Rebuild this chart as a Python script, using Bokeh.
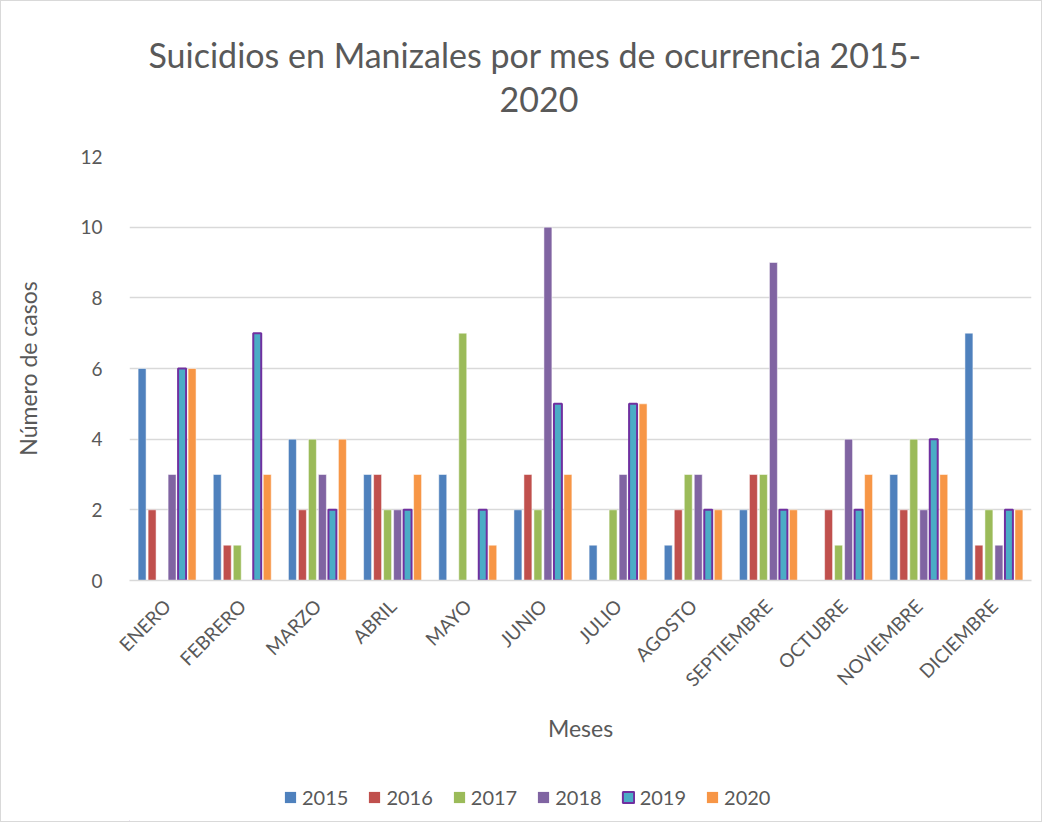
from bokeh.plotting import figure
from bokeh.models import ColumnDataSource, Legend, LegendItem, Title, FactorRange, Range1d
from bokeh.layouts import column
from bokeh.transform import dodge
from bokeh.embed import file_html
from bokeh.resources import INLINE
import math

meses = ["ENERO", "FEBRERO", "MARZO", "ABRIL", "MAYO", "JUNIO", "JULIO",
         "AGOSTO", "SEPTIEMBRE", "OCTUBRE", "NOVIEMBRE", "DICIEMBRE"]
y2015 = [6, 3, 4, 3, 3, 2, 1, 1, 2, 0, 3, 7]
y2016 = [2, 1, 2, 3, 0, 3, 0, 2, 3, 2, 2, 1]
y2017 = [0, 1, 4, 2, 7, 2, 2, 3, 3, 1, 4, 2]
y2018 = [3, 0, 3, 2, 0, 10, 3, 3, 9, 4, 2, 1]
y2019 = [6, 7, 2, 2, 2, 5, 5, 2, 2, 2, 4, 2]
y2020 = [6, 3, 4, 3, 1, 3, 5, 2, 2, 3, 3, 2]
years = ["2015", "2016", "2017", "2018", "2019", "2020"]
colors = ["#4F81BD", "#C0504D", "#9BBB59", "#8064A2", "#4BACC6", "#F79646"]

src = ColumnDataSource(dict(mes=meses, y2015=y2015, y2016=y2016, y2017=y2017,
                            y2018=y2018, y2019=y2019, y2020=y2020))

FONT = "Lato"
GREY = "#595959"

p = figure(frame_width=902, frame_height=424, x_range=FactorRange(*meses), y_range=Range1d(0, 12),
           output_backend="svg", toolbar_location=None,
           min_border_left=128, min_border_right=10, min_border_top=155, min_border_bottom=0)
p.outline_line_color = None
p.border_fill_color = "white"

step = 0.133
bw = 0.106
for i, (yr, c) in enumerate(zip(years, colors)):
    off = (i - 2.5) * step
    if yr == "2019":
        p.vbar(x=dodge("mes", off, range=p.x_range), top="y" + yr, width=bw, source=src,
               fill_color=c, line_color="#7030A0", line_width=2)
    else:
        p.vbar(x=dodge("mes", off, range=p.x_range), top="y" + yr, width=bw, source=src,
               fill_color=c, line_color="white", line_alpha=0.5, line_width=1)

# axes
p.yaxis.ticker = [0, 2, 4, 6, 8, 10, 12]
p.yaxis.axis_line_color = None
p.yaxis.major_tick_line_color = None
p.yaxis.minor_tick_line_color = None
p.yaxis.major_label_text_font = FONT
p.yaxis.major_label_text_font_size = "19px"
p.yaxis.major_label_text_color = GREY
p.yaxis.axis_label = "Número de casos"
p.yaxis.axis_label_text_font = FONT
p.yaxis.axis_label_text_font_size = "23px"
p.yaxis.axis_label_text_font_style = "normal"
p.yaxis.axis_label_text_color = GREY
p.yaxis.major_label_standoff = 21
p.yaxis.axis_label_standoff = 35

p.xaxis.axis_line_color = "#D9D9D9"
p.xaxis.axis_line_width = 1.5
p.xaxis.major_tick_line_color = None
p.xaxis.minor_tick_line_color = None
p.xaxis.major_label_orientation = math.pi / 4
p.xaxis.major_label_text_font = FONT
p.xaxis.major_label_text_font_size = "19px"
p.xaxis.major_label_text_color = GREY
p.xaxis.major_label_standoff = 16
p.xaxis.axis_label = "Meses"
p.xaxis.axis_label_text_font = FONT
p.xaxis.axis_label_text_font_size = "23px"
p.xaxis.axis_label_text_font_style = "normal"
p.xaxis.axis_label_text_color = GREY
p.xaxis.axis_label_standoff = 12

p.xgrid.grid_line_color = None
p.ygrid.grid_line_color = "#D9D9D9"
p.ygrid.grid_line_width = 1.5

# title (two lines)
p.add_layout(Title(text="2020", align="left", text_font=FONT, text_font_size="34px",
                   text_font_style="normal", text_color=GREY, standoff=90, offset=370), "above")
p.add_layout(Title(text="Suicidios en Manizales por mes de ocurrencia 2015-", align="left",
                   text_font=FONT, text_font_size="34px", text_font_style="normal",
                   text_color=GREY, standoff=-70, offset=19), "above")

# legend strip (separate small figure below the chart)
leg = figure(width=1040, height=77, x_range=Range1d(0, 1), y_range=Range1d(0, 1),
             output_backend="svg", toolbar_location=None,
             x_axis_location=None, y_axis_location=None, min_border=0)
leg.outline_line_color = None
leg.xgrid.grid_line_color = None
leg.ygrid.grid_line_color = None
leg_r = []
for yr, c in zip(years, colors):
    if yr == "2019":
        r = leg.vbar(x=[-5], top=[0], width=0.1, fill_color=c, line_color="#7030A0", line_width=2)
    else:
        r = leg.vbar(x=[-5], top=[0], width=0.1, fill_color=c, line_color=None)
    leg_r.append(r)

legend = Legend(items=[LegendItem(label=yr, renderers=[r]) for yr, r in zip(years, leg_r)],
                orientation="horizontal", location=(154, 12),
                label_text_font=FONT, label_text_font_size="20px", label_text_color=GREY,
                glyph_width=14, glyph_height=14, spacing=19, label_standoff=5,
                border_line_color=None, margin=0, padding=0, background_fill_alpha=0)
leg.add_layout(legend, "center")

layout = column(p, leg, spacing=0)
layout.styles = {"border": "1px solid #D9D9D9"}

open("out.html", "w").write(file_html(layout, INLINE))
